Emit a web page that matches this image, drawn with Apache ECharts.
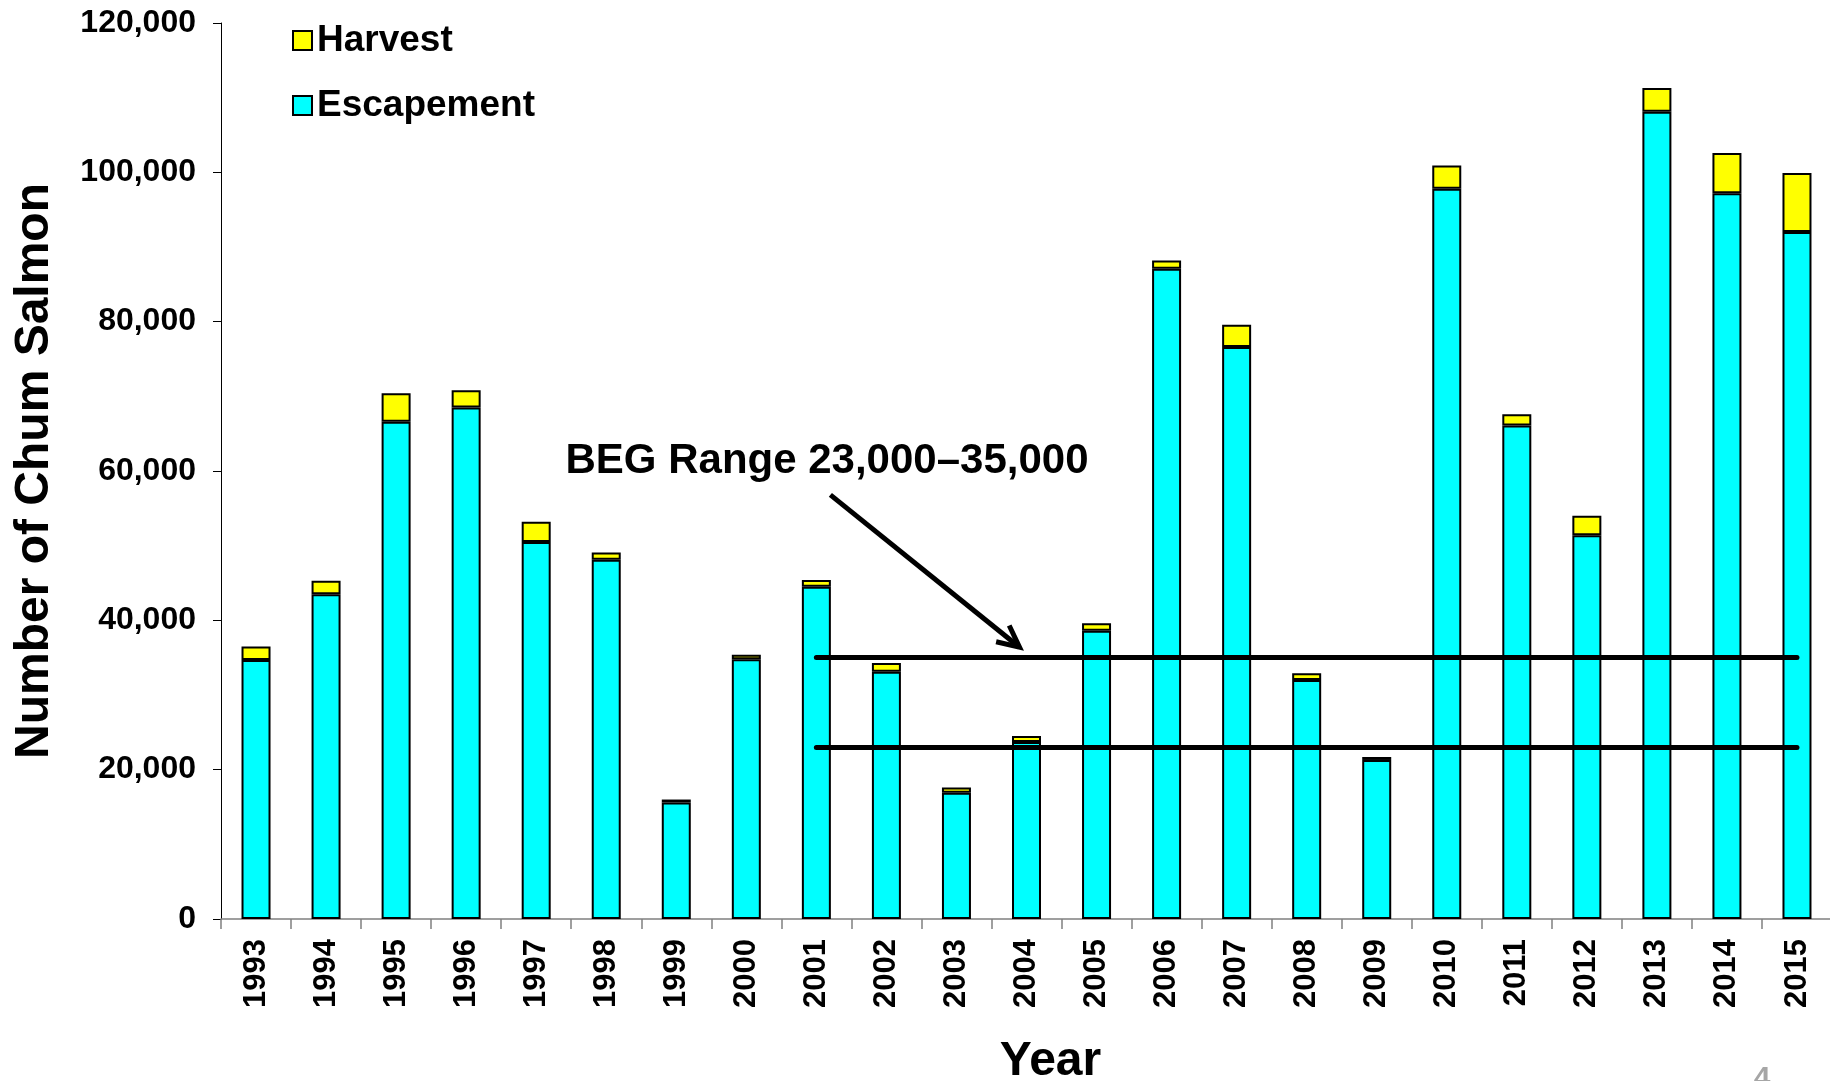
<!DOCTYPE html>
<html>
<head>
<meta charset="utf-8">
<script src="https://cdn.jsdelivr.net/npm/echarts@6/dist/echarts.min.js"></script>
<style>
  html, body { margin: 0; padding: 0; background: #fff; }
  #chart { width: 1830px; height: 1081px; }
</style>
</head>
<body>
<div id="chart"></div>
<script>
const years = ['1993','1994','1995','1996','1997','1998','1999','2000','2001','2002','2003','2004','2005','2006','2007','2008','2009','2010','2011','2012','2013','2014','2015'];
const escapement = [34700, 43500, 66600, 68500, 50500, 48100, 15600, 34800, 44500, 33100, 16900, 23700, 38600, 87100, 76600, 32000, 21300, 97800, 66100, 51400, 108100, 97200, 92000];
const harvest = [1800, 1800, 3800, 2300, 2700, 1000, 400, 600, 900, 1200, 700, 800, 1000, 1100, 3000, 900, 400, 3100, 1500, 2600, 3200, 5400, 7900];
const begLow = 23000;
const begHigh = 35000;
const begStartYear = '2001';
const begEndYear = '2015';
const yTicks = [0, 20000, 40000, 60000, 80000, 100000, 120000];
// arrow annotation in data space: [category index, value]
const arrowFrom = [8.2, 56800];
const arrowTo = [10.9, 36400];

const FONT = '"Liberation Sans", Arial, sans-serif';
const chart = echarts.init(document.getElementById('chart'));

const option = {
  animation: false,
  backgroundColor: '#ffffff',
  grid: { left: 221, top: 23, width: 1611, height: 896, containLabel: false, outerBoundsMode: 'none' },
  legend: {
    orient: 'vertical',
    left: 287,
    top: 17,
    icon: 'rect',
    itemWidth: 19,
    itemHeight: 19,
    itemGap: 28,
    data: ['Harvest', 'Escapement'],
    itemStyle: { borderColor: '#000', borderWidth: 2 },
    textStyle: { fontFamily: FONT, fontWeight: 'bold', fontSize: 37, color: '#000' }
  },
  xAxis: {
    type: 'category',
    data: years,
    name: 'Year',
    nameLocation: 'middle',
    nameGap: 119,
    nameTextStyle: { fontFamily: FONT, fontWeight: 'bold', fontSize: 48, color: '#000', padding: [0, 0, 0, 48] },
    axisLine: { lineStyle: { color: '#808080', width: 1.5 } },
    axisTick: { show: true, length: 10, lineStyle: { color: '#808080', width: 1.5 } },
    axisLabel: { rotate: 90, margin: 20, fontFamily: FONT, fontWeight: 'bold', fontSize: 31, color: '#000' }
  },
  yAxis: {
    type: 'value',
    min: yTicks[0],
    max: yTicks[yTicks.length - 1],
    interval: yTicks[1] - yTicks[0],
    name: 'Number of Chum Salmon',
    nameLocation: 'middle',
    nameRotate: 90,
    nameGap: 162,
    nameTextStyle: { fontFamily: FONT, fontWeight: 'bold', fontSize: 48, color: '#000' },
    axisLine: { show: true, lineStyle: { color: '#000', width: 1 } },
    axisTick: { show: true, length: 8, lineStyle: { color: '#000', width: 1 } },
    splitLine: { show: false },
    axisLabel: {
      margin: 25,
      fontFamily: FONT, fontWeight: 'bold', fontSize: 32, color: '#000',
      formatter: v => v.toLocaleString('en-US')
    }
  },
  series: [
    {
      name: 'Escapement',
      type: 'bar',
      stack: 'total',
      barWidth: 29,
      data: escapement,
      itemStyle: { color: '#00FFFF', borderColor: '#000', borderWidth: 2 },
      markLine: {
        silent: true,
        symbol: 'none',
        label: { show: false },
        lineStyle: { color: '#000', width: 5, type: 'solid', cap: 'round' },
        data: [
          [{ coord: [begStartYear, begHigh] }, { coord: [begEndYear, begHigh] }],
          [{ coord: [begStartYear, begLow] }, { coord: [begEndYear, begLow] }]
        ]
      }
    },
    {
      name: 'Harvest',
      type: 'bar',
      stack: 'total',
      barWidth: 29,
      data: harvest,
      itemStyle: { color: '#FFFF00', borderColor: '#000', borderWidth: 2 }
    }
  ]
};
chart.setOption(option);

function toPx(pt) {
  const i0 = Math.floor(pt[0]);
  const f = pt[0] - i0;
  const a = chart.convertToPixel({ gridIndex: 0 }, [years[i0], pt[1]]);
  const b = chart.convertToPixel({ gridIndex: 0 }, [years[i0 + 1], pt[1]]);
  return [a[0] + (b[0] - a[0]) * f, a[1]];
}
const p0 = toPx(arrowFrom);
const p1 = toPx(arrowTo);
const ang = Math.atan2(p1[1] - p0[1], p1[0] - p0[0]);
const hl = 24, ha = 0.45;
const h1 = [p1[0] - hl * Math.cos(ang - ha), p1[1] - hl * Math.sin(ang - ha)];
const h2 = [p1[0] - hl * Math.cos(ang + ha), p1[1] - hl * Math.sin(ang + ha)];

chart.setOption({
  graphic: [
    {
      type: 'line',
      shape: { x1: p0[0], y1: p0[1], x2: p1[0], y2: p1[1] },
      style: { stroke: '#000', lineWidth: 5 }
    },
    {
      type: 'polyline',
      shape: { points: [h1, p1, h2] },
      style: { stroke: '#000', lineWidth: 5, fill: null, lineJoin: 'miter' }
    },
    {
      type: 'text',
      x: 827, y: 461,
      style: {
        text: 'BEG Range 23,000\u201335,000',
        font: 'bold 42px ' + FONT,
        fill: '#000',
        textAlign: 'center',
        textVerticalAlign: 'middle'
      }
    },
    {
      type: 'text',
      x: 1762, y: 1064,
      style: {
        text: '4',
        font: 'bold 30px ' + FONT,
        fill: '#a6a6a6',
        textAlign: 'center',
        textVerticalAlign: 'top'
      }
    }
  ]
});
</script>
</body>
</html>
